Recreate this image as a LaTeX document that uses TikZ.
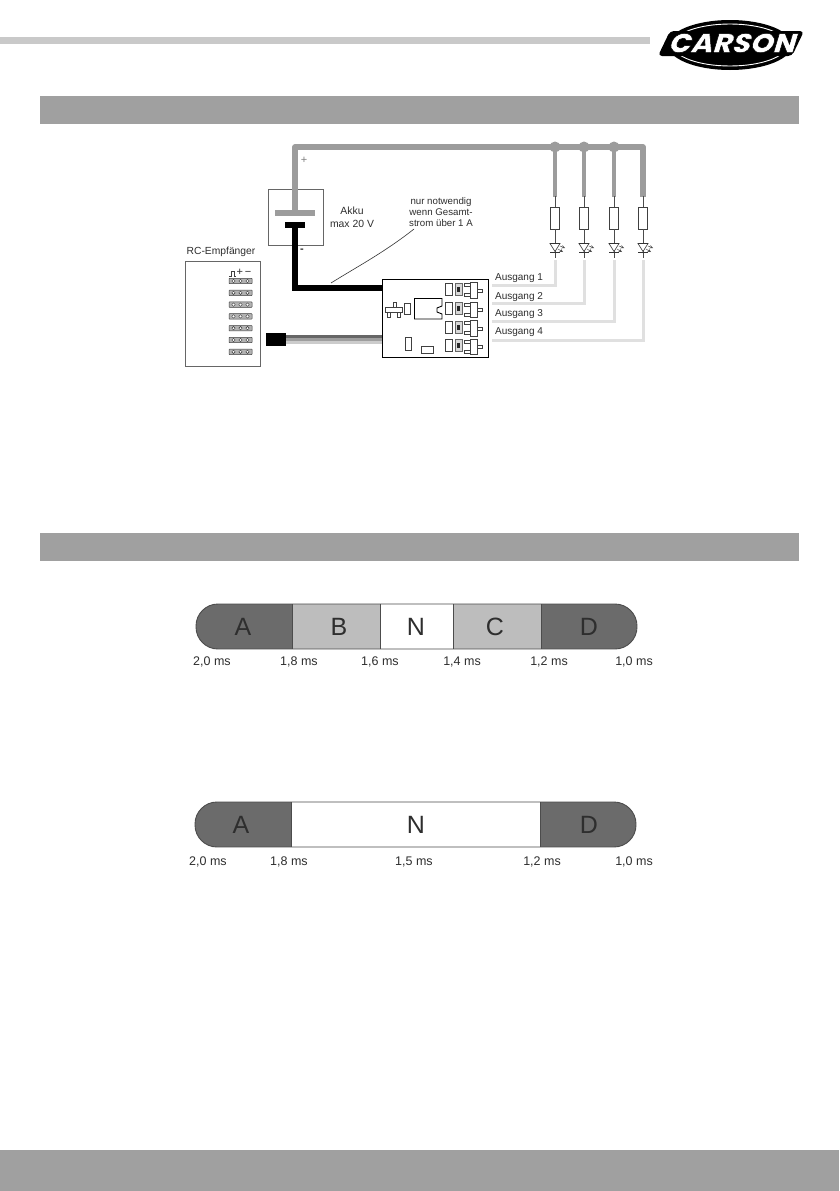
\documentclass[tikz,border=0pt]{standalone}
\usepackage{fontspec}
\setmainfont{Liberation Sans}
\newfontfamily\logofont[FakeSlant=0.3,FakeStretch=1.08]{Poppins ExtraBold}
\usetikzlibrary{calc}
\definecolor{barg}{HTML}{A0A0A0}
\definecolor{stripg}{HTML}{C9C9C9}
\definecolor{wireg}{HTML}{9C9C9C}
\definecolor{lightw}{HTML}{E0E0E0}
\definecolor{darkseg}{HTML}{6B6B6B}
\definecolor{midseg}{HTML}{BDBDBD}
\definecolor{txt}{HTML}{2E2E2E}
\tikzset{
 x=1pt,y=-1pt,
 lab/.style={font=\fontsize{10}{11}\selectfont,text=txt,inner sep=0pt,align=center},
 ms/.style={font=\fontsize{12.5}{13}\selectfont,text=txt,inner sep=0pt},
 big/.style={font=\fontsize{25}{26}\selectfont,text=txt,inner sep=0pt},
 thinbox/.style={draw=black!75,line width=0.7pt,fill=white},
 comp/.style={draw=black!75,line width=0.6pt,fill=white},
 gwire/.style={draw=wireg,line width=5.2pt},
 bwire/.style={draw=black,line width=6.4pt},
 lwire/.style={draw=lightw,line width=3pt},
 seg/.style={draw=black!70,line width=0.9pt},
}
\begin{document}
\begin{tikzpicture}
\useasboundingbox (0,0) rectangle (839,1191);
\fill[white] (0,0) rectangle (839,1191);
% header
\fill[stripg] (0,37) rectangle (650,44);
\fill[barg] (40,96) rectangle (799,124);
\fill[barg] (40,533) rectangle (799,561);
\fill[barg] (0,1150) rectangle (839,1191);
% logo
\fill[black] (730,45) ellipse [x radius=62,y radius=25];
\draw[white,line width=0.9pt] (730,45) ellipse [x radius=57,y radius=21];
\fill[black,rounded corners=4pt] (670,31)--(804,31)--(792,56)--(658,56)--cycle;
\node[inner sep=0pt] (logo) at (731,43) {\fontsize{27}{27}\logofont\special{pdf:code q 2 Tr 0.5 w 0 0 0 RG 1 1 1 rg}CARSON\special{pdf:code Q}};
% RC receiver
\node[lab,font=\fontsize{10.3}{11}\selectfont] (rclabel) at (221,252) {RC-Empfänger};
\node[draw=black!60,line width=0.7pt,minimum width=75pt,minimum height=105pt,inner sep=0pt] (rc) at (222.5,313.5) {};
\draw[black!75,line width=0.8pt] (229,276)--(231,276)--(231,271)--(234,271)--(234,276)--(236,276);
\node[lab,font=\fontsize{11}{11}\selectfont] (plusminus) at (244,272) {+\,−};
\foreach \i in {0,...,6}{
 \pgfmathsetmacro{\yy}{281+11.8*\i}
 \draw[black!75,fill=black!30,rounded corners=0.5pt,line width=0.5pt] (229,\yy-2.7) rectangle (252,\yy+2.7);
 \foreach \xx in {233.5,240.5,247.5}{\draw[black!80,fill=white,line width=0.4pt] (\xx,\yy) circle (1.7);}
}
% battery
\node[draw=black!60,line width=0.7pt,minimum width=55pt,minimum height=56pt,inner sep=0pt] (akku) at (295.5,217) {};
\coordinate (rail0) at (295,147);
\coordinate (rail1) at (643,147);
\coordinate (plusplate) at (295,213);
\coordinate (minusplate) at (295,225);
\draw[gwire,line join=round] (plusplate)--(rail0)--(rail1)--(643,197);
\fill[wireg] (275,210) rectangle (315,216);
\fill[black] (285,222) rectangle (305,228);
\node[lab,text=black!50,font=\fontsize{11}{11}\selectfont] (plus) at (304,160) {+};
\node[lab,font=\fontsize{11}{11}\selectfont\bfseries] (minus) at (302,251) {-};
\node[lab,font=\fontsize{10.4}{12}\selectfont] (akkulabel) at (352,217) {Akku\\[1pt]max 20 V};
\node[lab,font=\fontsize{9.7}{11.3}\selectfont] (note) at (441,212) {nur notwendig\\wenn Gesamt-\\strom über 1 A};
% module
\node[draw=black,line width=1pt,fill=white,minimum width=106pt,minimum height=78pt,inner sep=0pt] (module) at (435,318) {};
\coordinate (bwend) at (module.west |- 0,288);
\draw[bwire,line join=miter] (minusplate)--(295,288)--(bwend);
\draw[black!80,line width=0.6pt] (414,229) .. controls (385,252) and (355,268) .. (331,283);
% receiver cable
\node[fill=black,minimum width=20pt,minimum height=13pt,inner sep=0pt] (plug) at (276,339.5) {};
\fill[black!60] (286,335) rectangle (382,338);
\fill[black!38] (286,338) rectangle (382,341);
\fill[black!20] (286,341) rectangle (382,344);
% module components
\draw[comp,line width=0.8pt] (385,307) rectangle (402,312);
\draw[comp,line width=0.8pt] (393,302) rectangle (396,307);
\draw[comp,line width=0.8pt] (387.5,312) rectangle (390,317);
\draw[comp,line width=0.8pt] (397.5,312) rectangle (400,317);
\draw[comp] (404.5,303) rectangle (410.5,314);
\draw[draw=black,line width=0.9pt] (414.5,298.5)--(442,298.5)--(442,306)--(437,308)--(437,312)--(442,314)--(442,319)--(414.5,319)--cycle;
\draw[comp] (405,337.5) rectangle (411,350);
\draw[comp] (421,346) rectangle (433,353);
\foreach \ry in {283,302.5,321,339.5}{
 \draw[comp] (445,\ry) rectangle (452,\ry+12);
 \draw[black!60,fill=black!15,line width=0.6pt] (455,\ry) rectangle (462,\ry+12);
 \fill[black!85] (457,\ry+3.5) rectangle (460,\ry+8.5);
 \draw[comp,line width=0.7pt] (464.5,\ry+0.5) rectangle (470,\ry+3.5);
 \draw[comp,line width=0.7pt] (464.5,\ry+10.5) rectangle (470,\ry+13.5);
 \draw[comp,line width=0.7pt] (477,\ry+6) rectangle (482.5,\ry+9);
 \draw[comp,line width=0.9pt] (470,\ry-0.5) rectangle (477,\ry+15);
}
% outputs
\foreach \xx/\yy/\nm in {555/285/a,584/303/b,614/321/c,643/340/d}{
 \coordinate (out\nm) at (\xx,\yy);
 \draw[lwire,line join=miter] (492,\yy)--(out\nm)--(\xx,260);
}
\node[lab] (ausg1) at (519,278) {Ausgang 1};
\node[lab] (ausg2) at (519,297) {Ausgang 2};
\node[lab] (ausg3) at (519,314) {Ausgang 3};
\node[lab] (ausg4) at (519,332) {Ausgang 4};
% branches
\foreach \xx/\nm in {555/a,584/b,614/c,643/d}{
 \draw[gwire,line width=3.8pt] (\xx,147)--(\xx,197);
 \node[thinbox,minimum width=9pt,minimum height=22pt,inner sep=0pt] (res\nm) at (\xx,218) {};
 \draw[black!70,line width=0.7pt] (\xx,196)--(res\nm.north);
 \draw[black!70,line width=0.7pt] (res\nm.south)--(\xx,258);
 \draw[black!80,line width=0.6pt,fill=white] (\xx-5,243.5)--(\xx+5,243.5)--(\xx,251.5)--cycle;
 \draw[black!80,line width=0.7pt] (\xx-5,252)--(\xx+5,252);
 \draw[black!70,line width=0.5pt,-stealth] (\xx+5,246)--(\xx+10,248);
 \draw[black!70,line width=0.5pt,-stealth] (\xx+3,249)--(\xx+8,252);
}
\foreach \xx in {555,584,614}{\fill[wireg] (\xx,147) circle (5.5);}
% bar 1
\begin{scope}
\clip[rounded corners=22pt] (196,604) rectangle (637,649);
\fill[darkseg] (196,604) rectangle (292,649);
\fill[midseg] (292,604) rectangle (380,649);
\fill[white] (380,604) rectangle (453,649);
\fill[midseg] (453,604) rectangle (541,649);
\fill[darkseg] (541,604) rectangle (637,649);
\end{scope}
\draw[seg,rounded corners=22pt] (196,604) rectangle (637,649);
\foreach \xx in {292,380,453,541}{\draw[seg] (\xx,604)--(\xx,649);}
\node[big] (la) at (243,626.5) {A};
\node[big] (lb) at (339,626.5) {B};
\node[big] (ln) at (416,626.5) {N};
\node[big] (lc) at (495,626.5) {C};
\node[big] (ld) at (589,626.5) {D};
\node[ms] (t1) at (212,662) {2,0 ms};
\node[ms] (t2) at (299,662) {1,8 ms};
\node[ms] (t3) at (380,662) {1,6 ms};
\node[ms] (t4) at (462,662) {1,4 ms};
\node[ms] (t5) at (549,662) {1,2 ms};
\node[ms] (t6) at (634,662) {1,0 ms};
% bar 2
\begin{scope}
\clip[rounded corners=22pt] (195,802) rectangle (636,847);
\fill[darkseg] (195,802) rectangle (291,847);
\fill[white] (291,802) rectangle (540,847);
\fill[darkseg] (540,802) rectangle (636,847);
\end{scope}
\draw[seg,rounded corners=22pt] (195,802) rectangle (636,847);
\foreach \xx in {291,540}{\draw[seg] (\xx,802)--(\xx,847);}
\node[big] (ma) at (241,824.5) {A};
\node[big] (mn) at (416,824.5) {N};
\node[big] (md) at (589,824.5) {D};
\node[ms] (u1) at (208,862) {2,0 ms};
\node[ms] (u2) at (289,862) {1,8 ms};
\node[ms] (u3) at (414,862) {1,5 ms};
\node[ms] (u4) at (542,862) {1,2 ms};
\node[ms] (u5) at (634,862) {1,0 ms};
\end{tikzpicture}
\end{document}
